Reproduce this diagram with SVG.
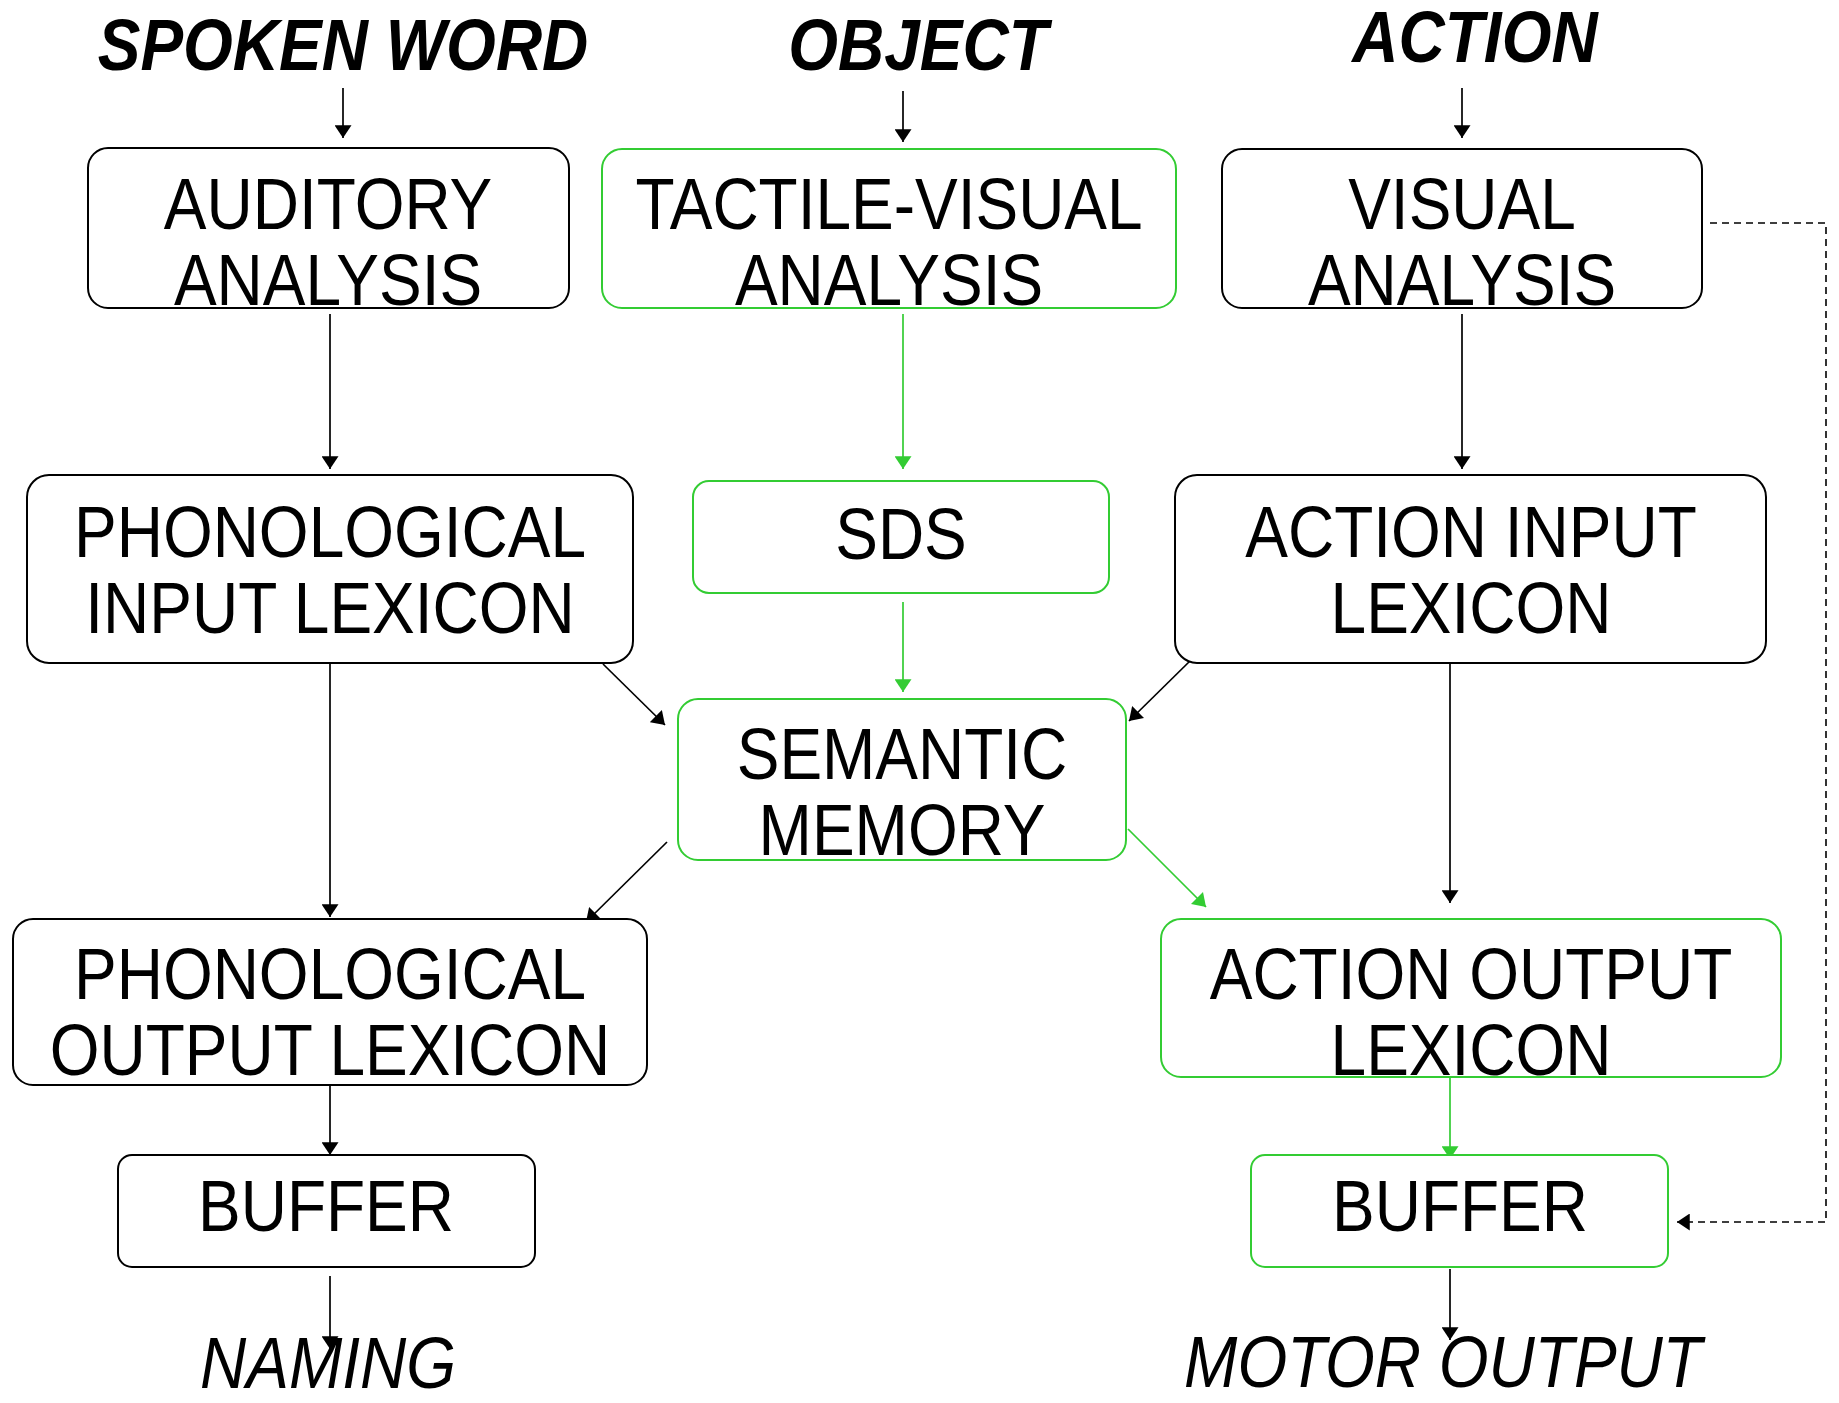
<svg xmlns="http://www.w3.org/2000/svg" width="1839" height="1403" viewBox="0 0 1839 1403">
<defs>
<style>
.bk{fill:#fff;stroke:#000;stroke-width:2}
.gr{fill:#fff;stroke:#33cc33;stroke-width:2}
.t{font-family:"Liberation Sans",Arial,sans-serif;font-size:64px;text-anchor:middle;fill:#000}
.ti{font-family:"Liberation Sans",Arial,sans-serif;font-size:64px;font-weight:bold;font-style:italic;text-anchor:middle;fill:#000}
.it{font-family:"Liberation Sans",Arial,sans-serif;font-size:64px;font-style:italic;text-anchor:middle;fill:#000}
.cb{stroke:#000;stroke-width:1.7;fill:none}
.cg{stroke:#33cc33;stroke-width:1.7;fill:none}
.cd{stroke:#000;stroke-width:1.6;fill:none;stroke-dasharray:7 5}
</style>
<marker id="ab" viewBox="0 0 12 16" refX="12" refY="8" markerWidth="13" markerHeight="17" markerUnits="userSpaceOnUse" orient="auto"><path d="M0,0 L12,8 L0,16 z" fill="#000"/></marker>
<marker id="ag" viewBox="0 0 12 16" refX="12" refY="8" markerWidth="13" markerHeight="17" markerUnits="userSpaceOnUse" orient="auto"><path d="M0,0 L12,8 L0,16 z" fill="#33cc33"/></marker>
</defs>
<rect width="1839" height="1403" fill="#fff"/>

<g id="titles">
<text class="ti" transform="translate(343,70) scale(1,1.12)">SPOKEN WORD</text>
<text class="ti" transform="translate(918,70) scale(1,1.12)">OBJECT</text>
<text class="ti" transform="translate(1475,62) scale(1,1.12)">ACTION</text>
</g>

<g id="connectors">
<line class="cb" x1="343" y1="88" x2="343" y2="138" marker-end="url(#ab)"/>
<line class="cb" x1="903" y1="91" x2="903" y2="142" marker-end="url(#ab)"/>
<line class="cb" x1="1462" y1="88" x2="1462" y2="138" marker-end="url(#ab)"/>
<line class="cb" x1="330" y1="314" x2="330" y2="469" marker-end="url(#ab)"/>
<line class="cg" x1="903" y1="314" x2="903" y2="469" marker-end="url(#ag)"/>
<line class="cb" x1="1462" y1="314" x2="1462" y2="469" marker-end="url(#ab)"/>
<line class="cg" x1="903" y1="602" x2="903" y2="692" marker-end="url(#ag)"/>
<line class="cb" x1="603" y1="664" x2="665" y2="725" marker-end="url(#ab)"/>
<line class="cb" x1="1192" y1="659" x2="1129" y2="721" marker-end="url(#ab)"/>
<line class="cb" x1="330" y1="664" x2="330" y2="917" marker-end="url(#ab)"/>
<line class="cb" x1="667" y1="842" x2="586" y2="922" marker-end="url(#ab)"/>
<line class="cg" x1="1128" y1="829" x2="1206" y2="907" marker-end="url(#ag)"/>
<line class="cb" x1="1450" y1="664" x2="1450" y2="903" marker-end="url(#ab)"/>
<line class="cb" x1="330" y1="1065" x2="330" y2="1155" marker-end="url(#ab)"/>
<line class="cg" x1="1450" y1="1065" x2="1450" y2="1159" marker-end="url(#ag)"/>
<line class="cb" x1="330" y1="1276" x2="330" y2="1349" marker-end="url(#ab)"/>
<line class="cb" x1="1450" y1="1269" x2="1450" y2="1340" marker-end="url(#ab)"/>
<path class="cd" d="M1710,223 H1826 V1222 H1677" marker-end="url(#ab)"/>
</g>

<g id="auditory">
<rect class="bk" x="88" y="148" width="481" height="160" rx="20"/>
<text class="t" transform="translate(328,229) scale(1,1.14)">AUDITORY</text>
<text class="t" transform="translate(328,305) scale(1,1.14)">ANALYSIS</text>
</g>
<g id="tactile">
<rect class="gr" x="602" y="149" width="574" height="159" rx="20"/>
<text class="t" transform="translate(889,229) scale(1,1.14)">TACTILE-VISUAL</text>
<text class="t" transform="translate(889,305) scale(1,1.14)">ANALYSIS</text>
</g>
<g id="visual">
<rect class="bk" x="1222" y="149" width="480" height="159" rx="20"/>
<text class="t" transform="translate(1462,229) scale(1,1.14)">VISUAL</text>
<text class="t" transform="translate(1462,305) scale(1,1.14)">ANALYSIS</text>
</g>
<g id="phon-input">
<rect class="bk" x="27" y="475" width="606" height="188" rx="22"/>
<text class="t" transform="translate(330,557) scale(1,1.14)">PHONOLOGICAL</text>
<text class="t" transform="translate(330,633) scale(1,1.14)">INPUT LEXICON</text>
</g>
<g id="sds">
<rect class="gr" x="693" y="481" width="416" height="112" rx="16"/>
<text class="t" transform="translate(901,559) scale(1,1.14)">SDS</text>
</g>
<g id="action-input">
<rect class="bk" x="1175" y="475" width="591" height="188" rx="22"/>
<text class="t" transform="translate(1471,557) scale(1,1.14)">ACTION INPUT</text>
<text class="t" transform="translate(1471,633) scale(1,1.14)">LEXICON</text>
</g>
<g id="semantic">
<rect class="gr" x="678" y="699" width="448" height="161" rx="20"/>
<text class="t" transform="translate(902,779) scale(1,1.14)">SEMANTIC</text>
<text class="t" transform="translate(902,855) scale(1,1.14)">MEMORY</text>
</g>
<g id="phon-output">
<rect class="bk" x="13" y="919" width="634" height="166" rx="20"/>
<text class="t" transform="translate(330,999) scale(1,1.14)">PHONOLOGICAL</text>
<text class="t" transform="translate(330,1075) scale(1,1.14)">OUTPUT LEXICON</text>
</g>
<g id="action-output">
<rect class="gr" x="1161" y="919" width="620" height="158" rx="20"/>
<text class="t" transform="translate(1471,999) scale(1,1.14)">ACTION OUTPUT</text>
<text class="t" transform="translate(1471,1075) scale(1,1.14)">LEXICON</text>
</g>
<g id="buffer-left">
<rect class="bk" x="118" y="1155" width="417" height="112" rx="14"/>
<text class="t" transform="translate(326,1231) scale(1,1.14)">BUFFER</text>
</g>
<g id="buffer-right">
<rect class="gr" x="1251" y="1155" width="417" height="112" rx="14"/>
<text class="t" transform="translate(1460,1231) scale(1,1.14)">BUFFER</text>
</g>
<g id="naming">
<text class="it" transform="translate(328,1388) scale(1,1.14)">NAMING</text>
</g>
<g id="motor-output">
<text class="it" transform="translate(1443,1387) scale(1,1.14)">MOTOR OUTPUT</text>
</g>
</svg>
